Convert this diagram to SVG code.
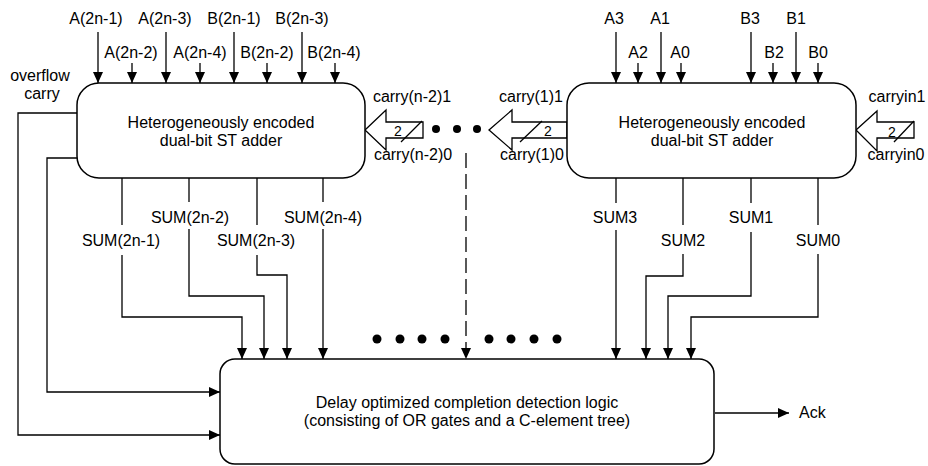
<svg xmlns="http://www.w3.org/2000/svg" width="928" height="466" viewBox="0 0 928 466">
<style>
text{font-family:"Liberation Sans",Arial,sans-serif;font-size:16px;fill:#000}
.c{text-anchor:middle}
.s{font-size:14px}
.box{fill:#fff;stroke:#000;stroke-width:1.5}
.ln{fill:none;stroke:#000;stroke-width:1.3}
.blk{fill:#fff;stroke:#000;stroke-width:1.3}
.arr{marker-end:url(#ah)}
</style>
<defs>
<marker id="ah" markerUnits="userSpaceOnUse" markerWidth="12" markerHeight="10" refX="11" refY="5" orient="auto">
<path d="M0,0 L11,5 L0,10 z" fill="#000"/>
</marker>
</defs>
<rect width="928" height="466" fill="#fff"/>

<g id="connectors">
<!-- top inputs, left adder -->
<path class="ln arr" d="M98,32 V83"/><path class="ln arr" d="M166,32 V83"/>
<path class="ln arr" d="M234,32 V83"/><path class="ln arr" d="M302,32 V83"/>
<path class="ln arr" d="M132,63 V83"/><path class="ln arr" d="M200,63 V83"/>
<path class="ln arr" d="M267,63 V83"/><path class="ln arr" d="M335,63 V83"/>
<!-- top inputs, right adder -->
<path class="ln arr" d="M616,32 V83"/><path class="ln arr" d="M661,32 V83"/>
<path class="ln arr" d="M751,32 V83"/><path class="ln arr" d="M796,32 V83"/>
<path class="ln arr" d="M638,63 V83"/><path class="ln arr" d="M681,63 V83"/>
<path class="ln arr" d="M773,63 V83"/><path class="ln arr" d="M818,63 V83"/>
<!-- overflow / carry to completion logic -->
<path class="ln arr" d="M77,113 H18 V435 H220"/>
<path class="ln arr" d="M77,158 H47 V392 H220"/>
<!-- sums left -->
<path class="ln" d="M122,178 V225"/><path class="ln arr" d="M122,255 V317 H242 V359"/>
<path class="ln" d="M189,178 V202"/><path class="ln arr" d="M189,229 V296 H264 V359"/>
<path class="ln" d="M257,178 V225"/><path class="ln arr" d="M257,255 V275 H287 V359"/>
<path class="ln" d="M323,178 V202"/><path class="ln arr" d="M323,229 V359"/>
<!-- sums right -->
<path class="ln" d="M616,178 V203"/><path class="ln arr" d="M616,230 V359"/>
<path class="ln" d="M683,178 V225"/><path class="ln arr" d="M683,254 V276 H646 V359"/>
<path class="ln" d="M751,178 V203"/><path class="ln arr" d="M751,232 V296 H668 V359"/>
<path class="ln" d="M818,178 V225"/><path class="ln arr" d="M818,254 V317 H691 V359"/>
<!-- dashed -->
<path class="ln arr" d="M466,153 V359" stroke-dasharray="15 6"/>
<!-- Ack -->
<path class="ln arr" d="M715,413 H789"/>
<!-- block arrows -->
<polygon class="blk" points="365,130 386,110 386,122 423,122 423,138 386,138 386,150"/>
<line class="ln" x1="401" y1="142" x2="422" y2="121"/>
<text class="s c" x="398" y="136">2</text>
<polygon class="blk" points="489,130 512,110 512,122 567,122 567,138 512,138 512,150"/>
<line class="ln" x1="520" y1="142" x2="542" y2="121"/>
<text class="s c" x="548" y="136">2</text>
<polygon class="blk" points="856,130 877,111 877,122 914,122 914,138 877,138 877,151"/>
<line class="ln" x1="894" y1="142" x2="914" y2="121"/>
<text class="s c" x="892" y="137">2</text>
<!-- dots -->
<g fill="#000">
<circle cx="436" cy="129" r="4"/><circle cx="457" cy="129" r="4"/><circle cx="477" cy="129" r="4"/>
<circle cx="377" cy="339" r="4.5"/><circle cx="400" cy="339" r="4.5"/><circle cx="422" cy="339" r="4.5"/><circle cx="445" cy="339" r="4.5"/>
<circle cx="489" cy="339" r="4.5"/><circle cx="511" cy="339" r="4.5"/><circle cx="534" cy="339" r="4.5"/><circle cx="557" cy="339" r="4.5"/>
</g>
</g>

<g id="leftAdder">
<rect class="box" x="77" y="83" width="288" height="95" rx="22"/>
<text class="c" x="221" y="128">Heterogeneously encoded</text>
<text class="c" x="221" y="146">dual-bit ST adder</text>
</g>

<g id="rightAdder">
<rect class="box" x="567" y="83" width="289" height="95" rx="22"/>
<text class="c" x="712" y="128">Heterogeneously encoded</text>
<text class="c" x="712" y="146">dual-bit ST adder</text>
</g>

<g id="completionLogic">
<rect class="box" x="220" y="359" width="494" height="105" rx="15"/>
<text class="c" x="467" y="408">Delay optimized completion detection logic</text>
<text class="c" x="467" y="426">(consisting of OR gates and a C-element tree)</text>
</g>

<g id="labels">
<text class="c" x="96" y="24">A(2n-1)</text>
<text class="c" x="165" y="24">A(2n-3)</text>
<text class="c" x="234" y="24">B(2n-1)</text>
<text class="c" x="302" y="24">B(2n-3)</text>
<text class="c" x="131" y="58">A(2n-2)</text>
<text class="c" x="200" y="58">A(2n-4)</text>
<text class="c" x="267" y="58">B(2n-2)</text>
<text class="c" x="334" y="58">B(2n-4)</text>
<text class="c" x="614" y="24">A3</text>
<text class="c" x="660" y="24">A1</text>
<text class="c" x="750" y="24">B3</text>
<text class="c" x="796" y="24">B1</text>
<text class="c" x="638" y="58">A2</text>
<text class="c" x="680" y="58">A0</text>
<text class="c" x="774" y="58">B2</text>
<text class="c" x="818" y="58">B0</text>
<text class="c" x="40" y="81">overflow</text>
<text class="c" x="42" y="99">carry</text>
<text class="c" x="412" y="102">carry(n-2)1</text>
<text class="c" x="413" y="160">carry(n-2)0</text>
<text class="c" x="531" y="102">carry(1)1</text>
<text class="c" x="532" y="160">carry(1)0</text>
<text class="c" x="897" y="102">carryin1</text>
<text class="c" x="896" y="160">carryin0</text>
<text class="c" x="121" y="246">SUM(2n-1)</text>
<text class="c" x="190" y="223">SUM(2n-2)</text>
<text class="c" x="256" y="246">SUM(2n-3)</text>
<text class="c" x="323" y="223">SUM(2n-4)</text>
<text class="c" x="615" y="223">SUM3</text>
<text class="c" x="683" y="246">SUM2</text>
<text class="c" x="751" y="223">SUM1</text>
<text class="c" x="818" y="246">SUM0</text>
<text x="799" y="418">Ack</text>
</g>
</svg>
